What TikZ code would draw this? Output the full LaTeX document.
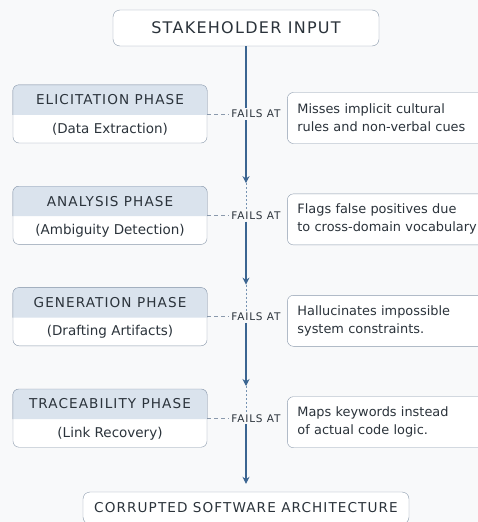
\documentclass[tikz,border=0pt]{standalone}
\usepackage{fontspec}
\setmainfont{DejaVu Sans}
\newfontfamily\capsfont{DejaVu Sans}[LetterSpace=8]
\usetikzlibrary{arrows.meta,positioning}
\definecolor{paper}{HTML}{F8F9FA}
\definecolor{edge}{HTML}{8A99AC}
\definecolor{head}{HTML}{DAE3ED}
\definecolor{flow}{HTML}{3B6591}
\definecolor{ink}{HTML}{2B333B}

\begin{document}
\begin{tikzpicture}[
    x=1pt,y=-1pt,
    every node/.style={text=ink},
    inbox/.style={draw=edge,fill=white,rounded corners=7pt,minimum width=266pt,
                  minimum height=36pt,font=\capsfont\fontsize{16}{19}\selectfont},
    outbox/.style={inbox,minimum width=326pt,minimum height=32pt,
                   font=\capsfont\fontsize{13.6}{17}\selectfont},
    phasebox/.style={draw=edge,fill=white,rounded corners=6pt,minimum width=194pt,
                     minimum height=58pt,inner sep=0pt},
    headband/.style={fill=head,draw=edge},
    phasetitle/.style={inner sep=1pt,font=\capsfont\fontsize{13.6}{15}\selectfont},
    phasesub/.style={inner sep=1pt,font=\fontsize{13.5}{16}\selectfont},
    note/.style={draw=edge,fill=white,rounded corners=6pt,minimum height=51pt,
                 text width=200pt,align=left,inner xsep=10pt,inner ysep=4pt,
                 font=\fontsize{12.9}{18}\selectfont},
    fail/.style={fill=paper,inner sep=2pt,font=\capsfont\fontsize{10.5}{12}\selectfont},
    flowline/.style={flow,line width=1.1pt},
    flowarrow/.style={flowline,-{Stealth[length=7pt,width=7pt]}},
    gapline/.style={flow!70,line width=0.7pt,dash pattern=on 2pt off 2pt},
    failline/.style={edge,line width=0.8pt,dash pattern=on 4pt off 3pt}
  ]
    \fill[paper,use as bounding box] (0,0) rectangle (478,522);

    \node[inbox] (top) at (246,28) {STAKEHOLDER INPUT};

    % phases
    \node[phasebox] (p1) at (110,114) {};
    \node[phasebox,below=43pt of p1] (p2) {};
    \node[phasebox,below=43pt of p2] (p3) {};
    \node[phasebox,below=43pt of p3] (p4) {};

    \filldraw[headband] ([yshift=-30pt]p1.north west) [rounded corners=6pt] -- (p1.north west)
        -- (p1.north east) [sharp corners] -- ([yshift=-30pt]p1.north east);
    \filldraw[headband] ([yshift=-30pt]p2.north west) [rounded corners=6pt] -- (p2.north west)
        -- (p2.north east) [sharp corners] -- ([yshift=-30pt]p2.north east);
    \filldraw[headband] ([yshift=-30pt]p3.north west) [rounded corners=6pt] -- (p3.north west)
        -- (p3.north east) [sharp corners] -- ([yshift=-30pt]p3.north east);
    \filldraw[headband] ([yshift=-30pt]p4.north west) [rounded corners=6pt] -- (p4.north west)
        -- (p4.north east) [sharp corners] -- ([yshift=-30pt]p4.north east);

    \node[phasetitle] (t1) at ([yshift=-15pt]p1.north) {ELICITATION PHASE};
    \node[phasesub]   (s1) at ([yshift=14pt]p1.south)  {(Data Extraction)};
    \node[phasetitle] (t2) at ([yshift=-15pt]p2.north) {ANALYSIS PHASE};
    \node[phasesub]   (s2) at ([yshift=14pt]p2.south)  {(Ambiguity Detection)};
    \node[phasetitle] (t3) at ([yshift=-15pt]p3.north) {GENERATION PHASE};
    \node[phasesub]   (s3) at ([yshift=14pt]p3.south)  {(Drafting Artifacts)};
    \node[phasetitle] (t4) at ([yshift=-15pt]p4.north) {TRACEABILITY PHASE};
    \node[phasesub]   (s4) at ([yshift=14pt]p4.south)  {(Link Recovery)};

    % failure labels and notes
    \node[fail,right=22pt of p1] (f1) {FAILS AT};
    \node[fail,right=22pt of p2] (f2) {FAILS AT};
    \node[fail,right=22pt of p3] (f3) {FAILS AT};
    \node[fail,right=22pt of p4] (f4) {FAILS AT};

    \node[note,right=80pt of p1,yshift=-4pt] (n1) {Misses implicit cultural\\rules and non-verbal cues};
    \node[note,right=80pt of p2,yshift=-4pt] (n2) {Flags false positives due\\to cross-domain vocabulary};
    \node[note,right=80pt of p3,yshift=-4pt] (n3) {Hallucinates impossible\\system constraints.};
    \node[note,right=80pt of p4,yshift=-4pt] (n4) {Maps keywords instead\\of actual code logic.};

    \node[outbox] (out) at (246,508) {CORRUPTED SOFTWARE ARCHITECTURE};

    \coordinate (a2) at ([yshift=3pt]top.south |- p2.north);
    \coordinate (a3) at ([yshift=3pt]top.south |- p3.north);
    \coordinate (a4) at ([yshift=3pt]top.south |- p4.north);
    \coordinate (a5) at ([yshift=8pt]out.north);

    \draw[flowline]  (top) -- (top |- f1.north);
    \draw[flowarrow] (top |- f1.south) -- (a2);
    \draw[gapline]   (a2) -- (top |- f2.north);
    \draw[flowarrow] (top |- f2.south) -- (a3);
    \draw[gapline]   (a3) -- (top |- f3.north);
    \draw[flowarrow] (top |- f3.south) -- (a4);
    \draw[gapline]   (a4) -- (top |- f4.north);
    \draw[flowarrow] (top |- f4.south) -- (a5);

    \draw[failline] (p1) -- (f1);
    \draw[failline] (p2) -- (f2);
    \draw[failline] (p3) -- (f3);
    \draw[failline] (p4) -- (f4);
\end{tikzpicture}
\end{document}
